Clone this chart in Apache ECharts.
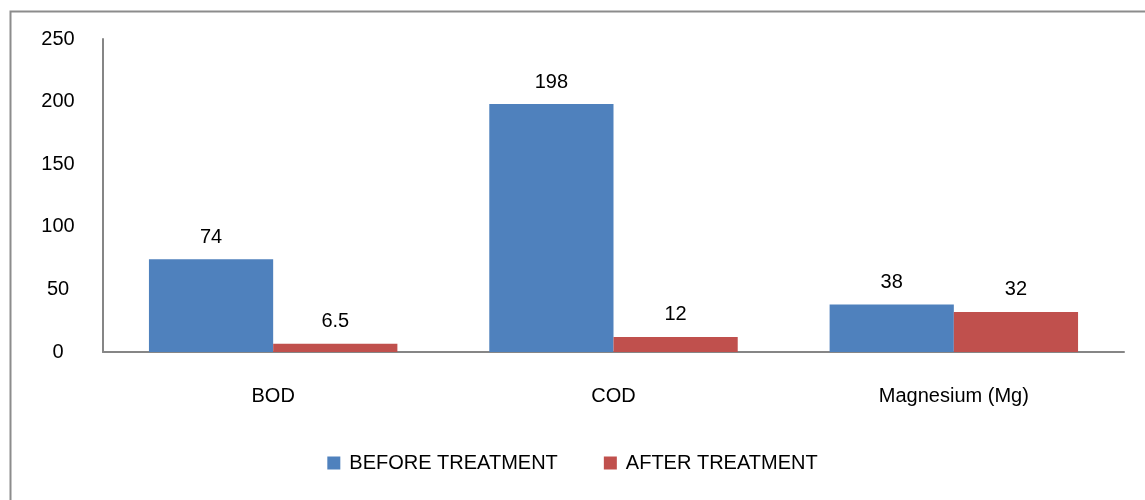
<!DOCTYPE html>
<html><head><meta charset="utf-8">
<script src="https://cdn.jsdelivr.net/npm/echarts@6/dist/echarts.min.js"></script>
<style>html,body{margin:0;padding:0;background:#fff}#c{width:1145px;height:500px}</style>
</head><body><div id="c"></div>
<script>
var categories = ['BOD', 'COD', 'Magnesium (Mg)'];
var beforeValues = [74, 198, 38];
var afterValues = [6.5, 12, 32];
var seriesNames = ['BEFORE TREATMENT', 'AFTER TREATMENT'];
var FONT = 'Liberation Sans';
var chart = echarts.init(document.getElementById('c'));
var labelStyle = {show: true, position: 'top', distance: 12, color: '#000', fontFamily: FONT, fontSize: 20};
chart.setOption({
  animation: false,
  textStyle: {fontFamily: FONT},
  graphic: [{type: 'rect', left: 8, top: 9, shape: {width: 1150, height: 500}, style: {fill: 'none', stroke: '#8c8c8c', lineWidth: 2}}],
  grid: {left: 103, right: 21, top: 39, bottom: 148},
  legend: {
    bottom: 22, left: 'center', itemWidth: 13, itemHeight: 13, itemGap: 46,
    icon: 'rect', textStyle: {fontFamily: FONT, fontSize: 20, color: '#000', padding: [0, 0, 0, 4]},
    data: seriesNames
  },
  xAxis: {
    type: 'category', data: categories,
    axisLine: {lineStyle: {color: '#868686', width: 2}},
    axisTick: {show: false},
    axisLabel: {color: '#000', fontFamily: FONT, fontSize: 20, margin: 34}
  },
  yAxis: {
    type: 'value', min: 0, max: 250, interval: 50,
    axisLine: {show: true, lineStyle: {color: '#868686', width: 2}},
    axisTick: {show: false},
    splitLine: {show: false},
    axisLabel: {color: '#000', fontFamily: FONT, fontSize: 20, margin: 45, align: 'center'}
  },
  series: [
    {name: seriesNames[0], type: 'bar', data: beforeValues, barGap: '0%', barCategoryGap: '27%',
     itemStyle: {color: '#4F81BD'}, label: labelStyle},
    {name: seriesNames[1], type: 'bar', data: afterValues,
     itemStyle: {color: '#C0504D'}, label: labelStyle}
  ]
});
</script></body></html>
